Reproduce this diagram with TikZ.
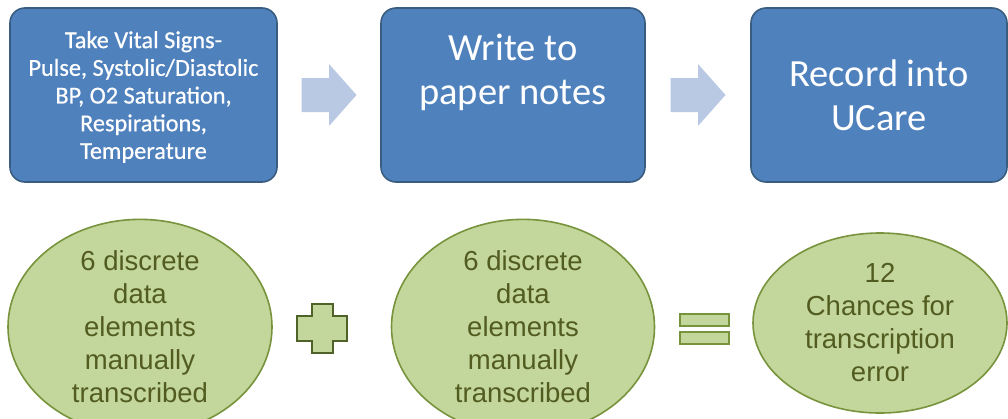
\documentclass[tikz,border=0pt]{standalone}
\usepackage{fontspec}
\setmainfont{Carlito}
\newfontfamily\heavyfont[FakeBold=0.6]{Carlito}
\newfontfamily\arialfont{Liberation Sans}
\usetikzlibrary{shapes.geometric,calc}

\definecolor{boxfill}{RGB}{79,129,189}
\definecolor{boxline}{RGB}{56,93,128}
\definecolor{arrowfill}{RGB}{185,201,227}
\definecolor{ovalfill}{RGB}{195,214,155}
\definecolor{ovalline}{RGB}{119,147,60}
\definecolor{ovaltext}{RGB}{82,92,32}
\definecolor{plusline}{RGB}{79,98,40}

\tikzset{
  bluebox/.style={draw=boxline, line width=1.6pt, fill=boxfill, rounded corners=15pt,
    inner sep=0pt, align=center, text=white},
  smalltext/.style={font=\heavyfont\fontsize{24.3}{27.7}\selectfont, text=white, align=center},
  bigtext/.style={font=\fontsize{38.5}{44}\selectfont, text=white, align=center},
  oval/.style={ellipse, draw=ovalline, line width=1.6pt, fill=ovalfill, inner sep=0pt,
    align=center, text=ovaltext, font=\arialfont\fontsize{27.5}{33}\selectfont},
  blockarrow/.style={fill=arrowfill},
  mathsign/.style={fill=ovalfill, line width=2pt, line join=miter},
}

\begin{document}
\begin{tikzpicture}[x=1pt, y=-1pt]
  \useasboundingbox (0,0) rectangle (1008,418);

  % process boxes
  \node[bluebox, minimum width=267pt, minimum height=174pt] (b1) at (143.5,95) {};
  \node[smalltext] (t1) at ([yshift=-2pt]b1.center)
    {Take Vital Signs-\\Pulse, Systolic/Diastolic\\BP, O2 Saturation,\\Respirations,\\Temperature};
  \node[bluebox, minimum width=264pt, minimum height=174pt] (b2) at (513,95) {};
  \node[bigtext] (t2) at ([yshift=23pt]b2.center) {Write to\\paper notes};
  \node[bluebox, minimum width=256pt, minimum height=174pt] (b3) at (879,95) {};
  \node[bigtext] (t3) at (b3.center) {Record into\\UCare};

  % block arrows between the boxes
  \coordinate (a1) at ($(b1.east)!0.5!(b2.west)$);
  \coordinate (a2) at ($(b2.east)!0.5!(b3.west)$);
  \foreach \c in {a1,a2}{
    \fill[blockarrow] ([shift={(-27.5,-17)}]\c) -- ([shift={(0,-17)}]\c) -- ([shift={(0,-31)}]\c)
      -- ([shift={(27.5,0)}]\c) -- ([shift={(0,31)}]\c) -- ([shift={(0,17)}]\c)
      -- ([shift={(-27.5,17)}]\c) -- cycle;
  }

  % data element ovals
  \node[oval, minimum width=264pt, minimum height=178pt] (e1) at (140,327)
    {6 discrete\\data\\elements\\manually\\transcribed};
  \node[oval, minimum width=263pt, minimum height=178pt] (e2) at (523,327)
    {6 discrete\\data\\elements\\manually\\transcribed};
  \node[oval, minimum width=254pt, minimum height=180pt] (e3) at (880,323)
    {12\\Chances for\\transcription\\error};

  % plus sign
  \coordinate (p) at (322,328.5);
  \draw[mathsign, draw=plusline]
    ([shift={(-10.5,-24.5)}]p) -- ([shift={(10.5,-24.5)}]p) -- ([shift={(10.5,-12.5)}]p)
    -- ([shift={(25,-12.5)}]p) -- ([shift={(25,12.5)}]p) -- ([shift={(10.5,12.5)}]p)
    -- ([shift={(10.5,24.5)}]p) -- ([shift={(-10.5,24.5)}]p) -- ([shift={(-10.5,12.5)}]p)
    -- ([shift={(-25,12.5)}]p) -- ([shift={(-25,-12.5)}]p) -- ([shift={(-10.5,-12.5)}]p) -- cycle;

  % equals sign
  \coordinate (q) at (704,328.5);
  \draw[mathsign, draw=ovalline] ([shift={(-24.5,-15)}]q) rectangle ([shift={(24.5,-3)}]q);
  \draw[mathsign, draw=ovalline] ([shift={(-24.5,3)}]q) rectangle ([shift={(24.5,15)}]q);
\end{tikzpicture}
\end{document}
